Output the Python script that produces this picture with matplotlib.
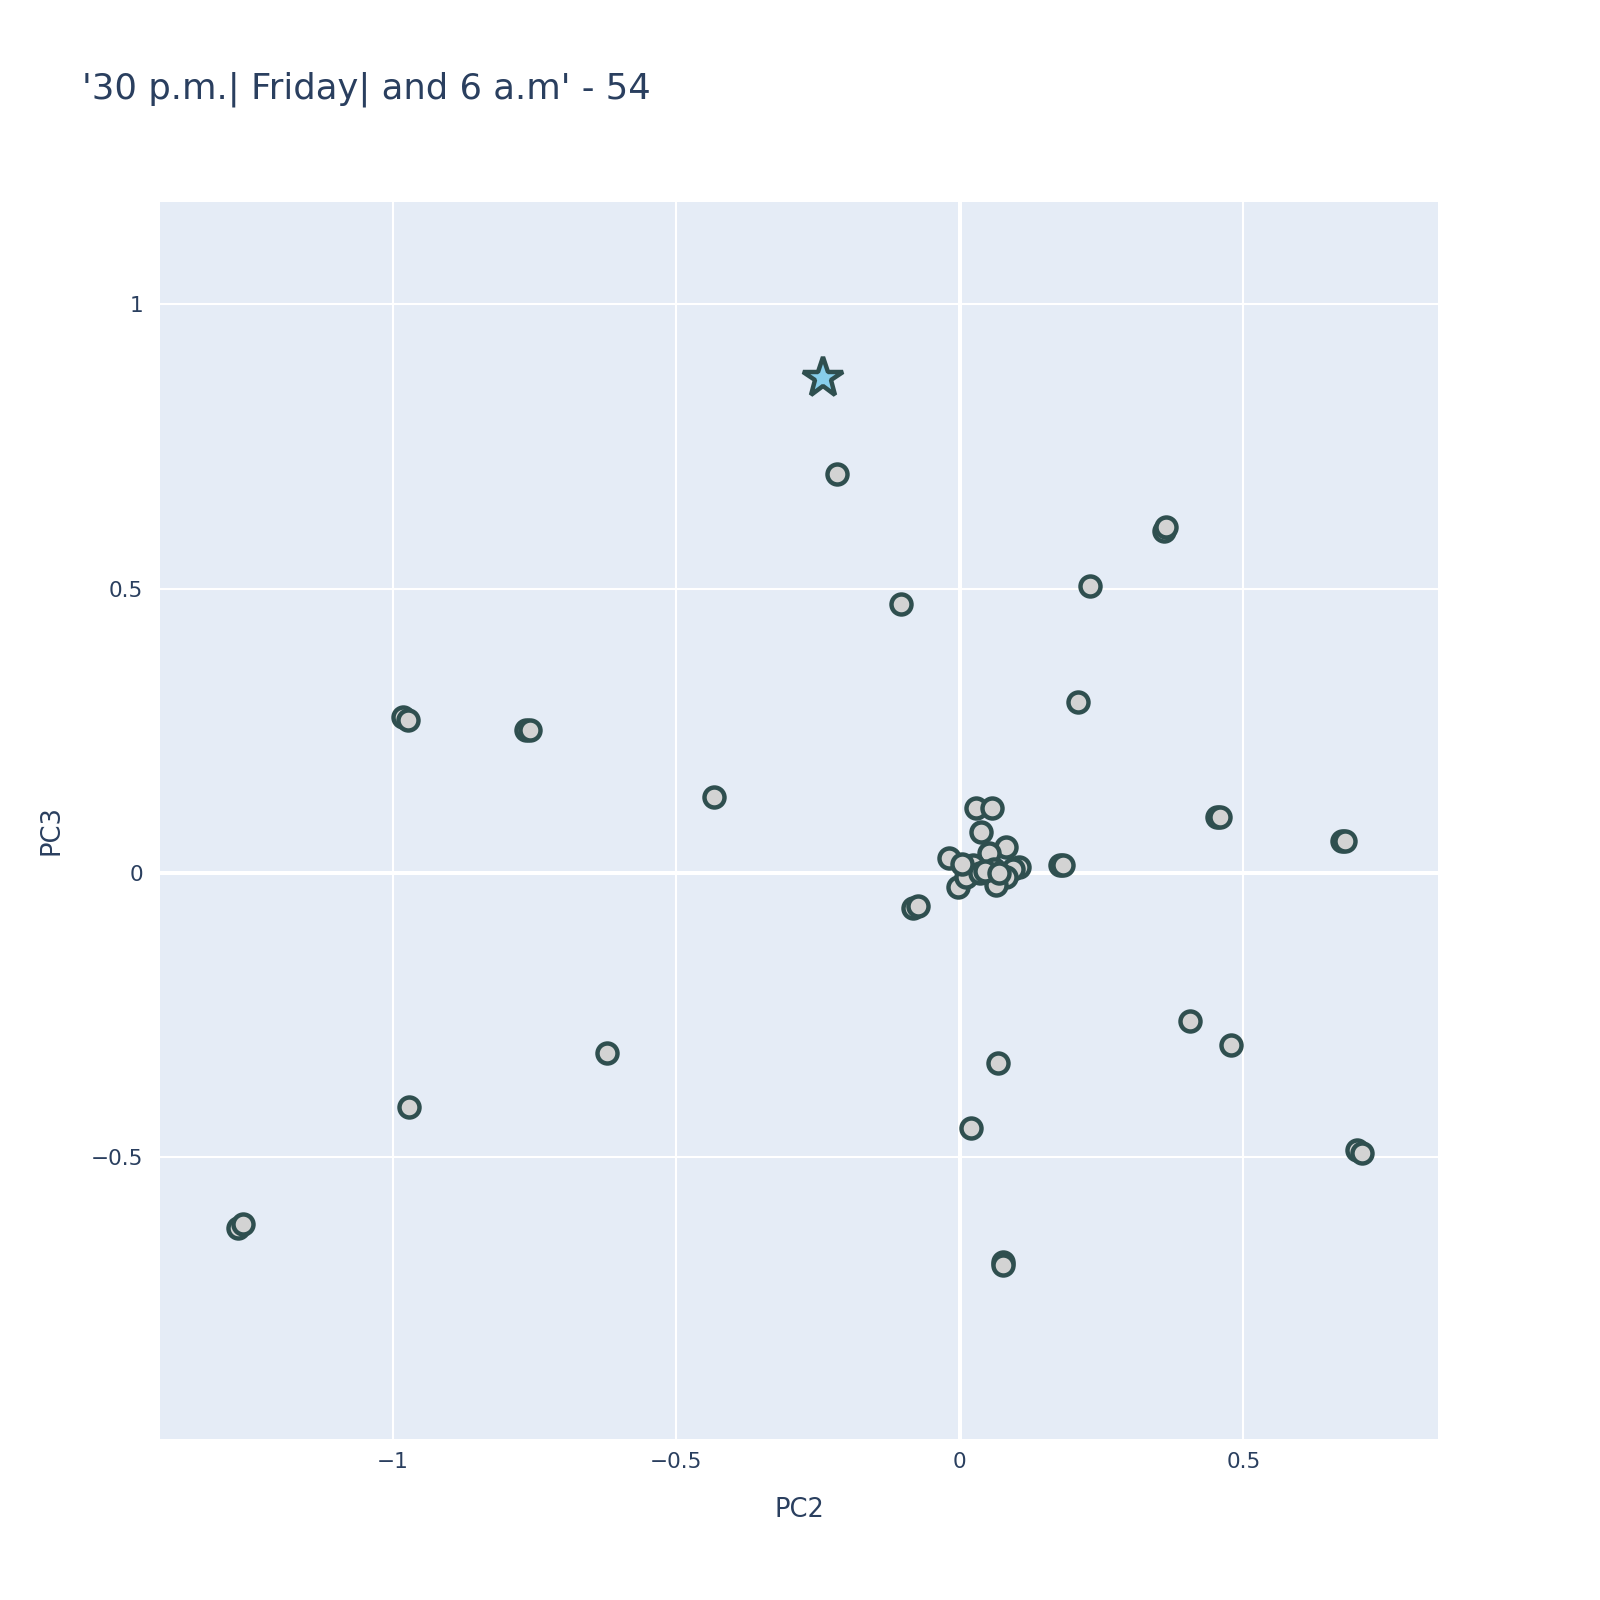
import matplotlib
matplotlib.use("Agg")
import matplotlib.pyplot as plt

# Data (PC2, PC3)
pc2 = [-0.216, 0.360, 0.363, -0.103, 0.230, 0.209, -0.982, -0.973, -0.764, -0.757,
       -0.433, 0.029, 0.057, 0.038, 0.081, 0.051, -0.019, 0.024, 0.061, 0.105,
       0.094, 0.082, 0.064, -0.003, 0.011, 0.035, 0.176, 0.182, 0.453, 0.459,
       0.674, 0.680, -0.083, -0.074, 0.406, 0.478, -0.621, 0.068, -0.971, 0.020,
       0.701, 0.709, -1.273, -1.264, 0.077, 0.077, 0.004, 0.045, 0.070]
pc3 = [0.702, 0.601, 0.609, 0.472, 0.504, 0.300, 0.273, 0.269, 0.251, 0.251,
       0.133, 0.113, 0.113, 0.072, 0.045, 0.035, 0.025, 0.013, 0.007, 0.009,
       0.006, -0.007, -0.022, -0.025, -0.007, -0.001, 0.013, 0.013, 0.097, 0.097,
       0.056, 0.056, -0.063, -0.059, -0.262, -0.303, -0.318, -0.336, -0.413, -0.449,
       -0.488, -0.494, -0.625, -0.619, -0.686, -0.691, 0.015, 0.002, 0.000]
star_pc2 = [-0.241]
star_pc3 = [0.871]

title = "'30 p.m.| Friday| and 6 a.m' - 54"
xticks = [-1, -0.5, 0, 0.5]
xticklabels = ["\u22121", "\u22120.5", "0", "0.5"]
yticks = [-0.5, 0, 0.5, 1]
yticklabels = ["\u22120.5", "0", "0.5", "1"]

plt.rcParams['font.family'] = ['DejaVu Sans']
txt = "#2a3f5f"

fig = plt.figure(figsize=(16, 16), dpi=100)
ax = fig.add_axes([0.1, 0.1006, 0.799, 0.7734])
ax.set_facecolor("#E5ECF6")
for s in ax.spines.values():
    s.set_visible(False)

ax.set_xlim(-1.410, 0.844)
ax.set_ylim(-0.997, 1.181)
ax.set_xticks(xticks)
ax.set_xticklabels(xticklabels)
ax.set_yticks(yticks)
ax.set_yticklabels(yticklabels)
ax.tick_params(length=0, labelsize=15.6, labelcolor=txt)
ax.tick_params(axis='x', pad=9)
ax.tick_params(axis='y', pad=12)
ax.grid(True, color="white", linewidth=1.5)
ax.set_axisbelow(True)
ax.axhline(0, color="white", linewidth=2.9, zorder=1)
ax.axvline(0, color="white", linewidth=2.9, zorder=1)

ax.scatter(pc2, pc3, s=14.4 ** 2, facecolor="#D3D3D3", edgecolor="#2F4F4F",
           linewidths=3.2, zorder=3)
ax.plot(star_pc2, star_pc3, marker='*', markersize=30, markerfacecolor="#87CEEB",
        markeredgecolor="#2F4F4F", markeredgewidth=3.2, linestyle='none', zorder=4)

fig.text(0.051, 0.944, title, fontsize=25.5, color=txt, ha='left', va='center')
fig.text(0.4997, 0.056, "PC2", fontsize=18.5, color=txt, ha='center', va='center')
fig.text(0.032, 0.4815, "PC3", fontsize=18.5, color=txt, ha='center', va='center',
         rotation=90)

fig.savefig("out.png", dpi=100, facecolor="white")
